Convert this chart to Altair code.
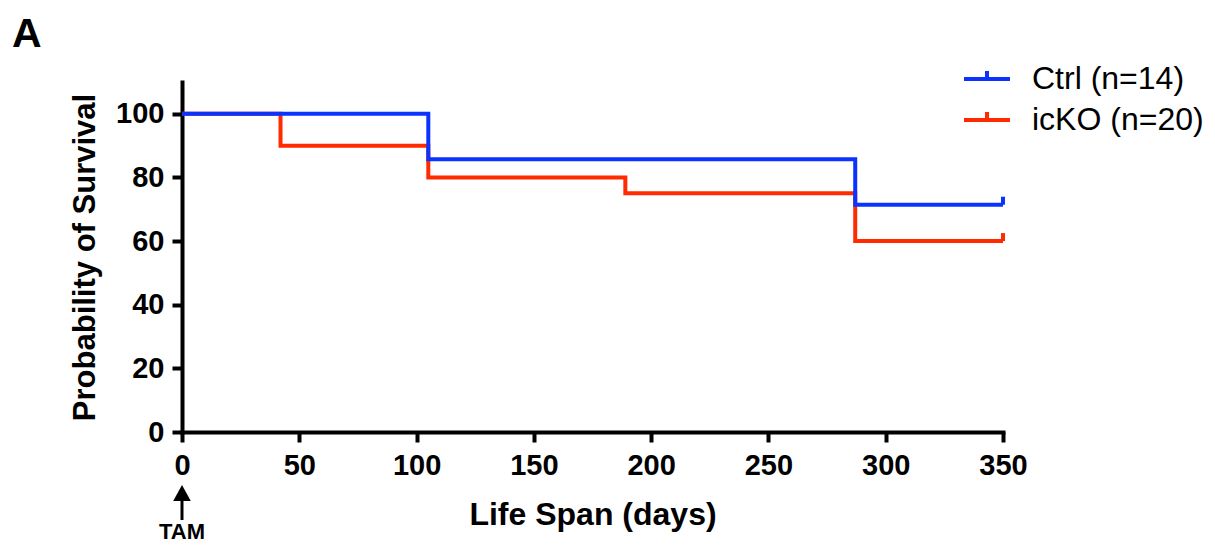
import altair as alt
import pandas as pd

# ---- data ----
series = ["Ctrl (n=14)", "icKO (n=20)"]
colors = ["#0A33FF", "#FF2A00"]
ctrl_days = [0, 105, 287, 350]
ctrl_surv = [100, 85.71, 71.43, 71.43]
ko_days = [0, 42, 105, 189, 287, 350]
ko_surv = [100, 90, 80, 75, 60, 60]
x_ticks = [0, 50, 100, 150, 200, 250, 300, 350]
y_ticks = [0, 20, 40, 60, 80, 100]

ctrl_df = pd.DataFrame({"days": ctrl_days, "surv": ctrl_surv, "group": series[0]})
ko_df = pd.DataFrame({"days": ko_days, "surv": ko_surv, "group": series[1]})
ctrl_end = ctrl_df.tail(1)
ko_end = ko_df.tail(1)

FONT = "Liberation Sans"

x_enc = alt.X("days:Q",
              scale=alt.Scale(domain=[0, 350], nice=False, zero=True),
              axis=alt.Axis(values=x_ticks, title="Life Span (days)", format="d",
                            labelFlush=False, labelPadding=9, titlePadding=19,
                            titleFontSize=32))
y_enc = alt.Y("surv:Q",
              scale=alt.Scale(domain=[0, 110], nice=False),
              axis=alt.Axis(values=y_ticks, title="Probability of Survival", format="d",
                            labelFlush=False, labelPadding=8, titlePadding=14))
color_enc = alt.Color("group:N",
                      scale=alt.Scale(domain=series, range=colors),
                      legend=alt.Legend(orient="none", legendX=780, legendY=-28,
                                        title=None,
                                        symbolType="M-1,0L1,0M0,0L0,-0.35",
                                        symbolSize=2116, symbolStrokeWidth=4,
                                        labelFontSize=32, labelFont=FONT,
                                        labelOffset=20, labelLimit=400,
                                        rowPadding=0, padding=0,
                                        labelColor="black"))

def line_layer(df):
    return alt.Chart(df).mark_line(interpolate="step-after", strokeWidth=4).encode(
        x=x_enc, y=y_enc, color=color_enc, order="days:Q")

def censor_layer(df, c):
    return alt.Chart(df).mark_point(shape="M0,0L0,-1", size=256, filled=False,
                                    strokeWidth=4, opacity=1).encode(
        x="days:Q", y="surv:Q", color=alt.value(c))

one = alt.Data(values=[{}])

panel = alt.Chart(one).mark_text(text="A", font=FONT, fontWeight="bold", fontSize=41,
                                 align="left", baseline="alphabetic", color="black").encode(
    x=alt.value(-170), y=alt.value(-35))

arrow_shaft = alt.Chart(one).mark_rule(strokeWidth=3, color="black").encode(
    x=alt.datum(0), y=alt.value(415), y2=alt.value(438))
arrow_head = alt.Chart(one).mark_point(shape="M0,-1L1.1,1L-1.1,1Z", size=256, filled=True,
                                       color="black", opacity=1).encode(
    x=alt.datum(0), y=alt.value(411))
tam = alt.Chart(one).mark_text(text="TAM", font=FONT, fontWeight="bold", fontSize=22,
                               align="center", baseline="alphabetic", color="black").encode(
    x=alt.datum(0), y=alt.value(457))

chart = alt.layer(
    line_layer(ko_df), line_layer(ctrl_df),
    censor_layer(ko_end, colors[1]), censor_layer(ctrl_end, colors[0]),
    panel, arrow_shaft, arrow_head, tam,
).properties(
    width=821, height=350,
    padding={"left": 174, "top": 74, "right": 203, "bottom": 112},
    autosize=alt.AutoSizeParams(type="none"),
    background="white",
).configure_view(stroke=None).configure_axis(
    domainColor="black", domainWidth=4, domainCap="square",
    tickColor="black", tickWidth=4, tickSize=10,
    labelFont=FONT, labelFontWeight="bold", labelFontSize=29, labelColor="black",
    titleFont=FONT, titleFontWeight="bold", titleFontSize=31, titleColor="black",
    grid=False,
)

chart.save("out.html", embed_options={"renderer": "svg", "actions": False})
